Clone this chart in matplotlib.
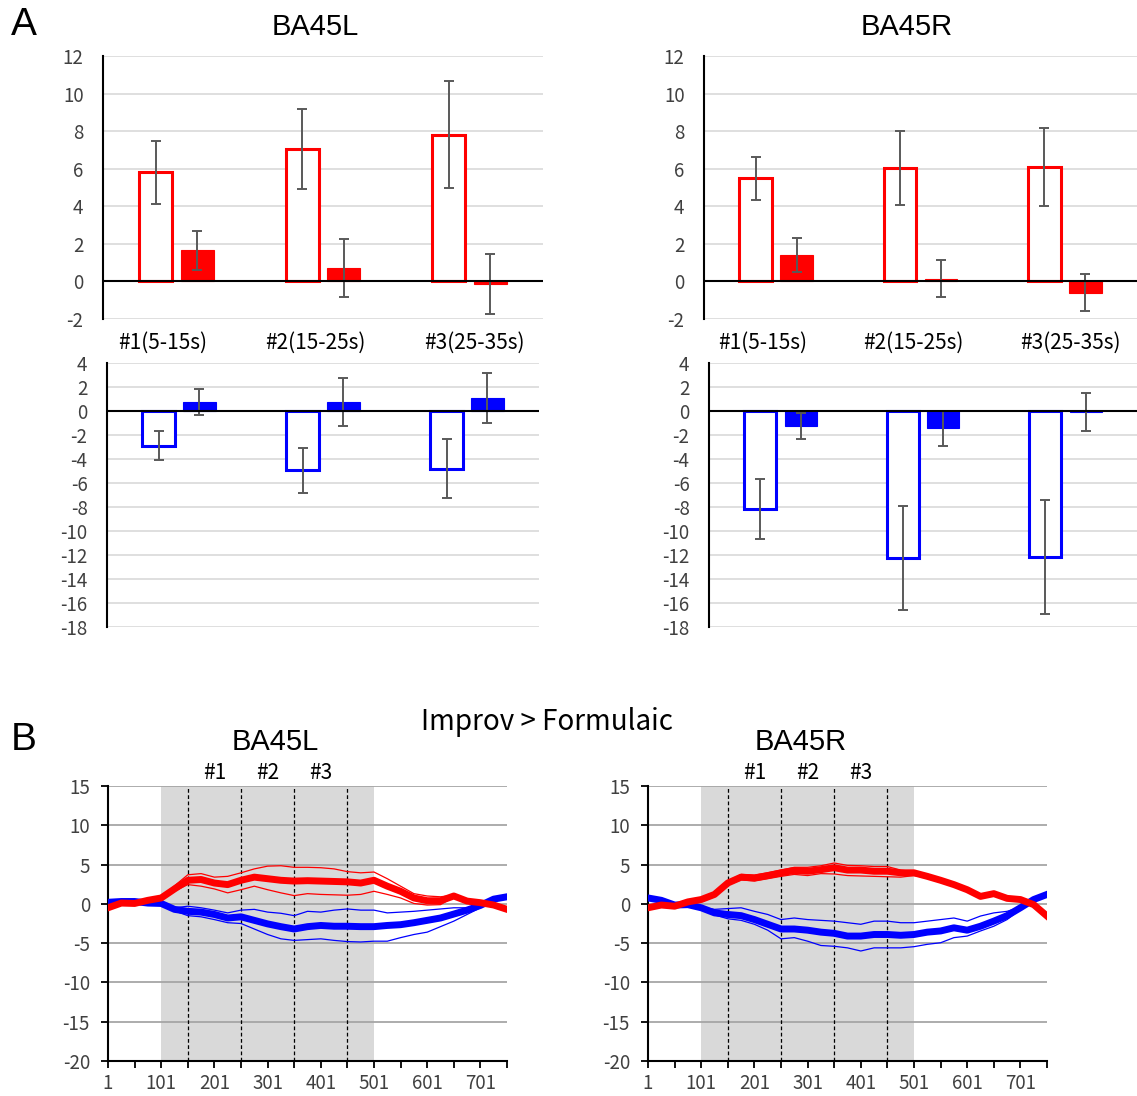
import numpy as np
import matplotlib
matplotlib.use('Agg')
import matplotlib.pyplot as plt

W, H = 1137, 1096

plt.rcParams['font.family'] = ['Noto Sans CJK JP', 'DejaVu Sans']
plt.rcParams['axes.unicode_minus'] = False

# ---------------- Panel A data (mean, error) ----------------
categories = ['#1(5-15s)', '#2(15-25s)', '#3(25-35s)']

L_red_open = [5.8, 7.05, 7.8]
L_red_open_err = [1.7, 2.15, 2.85]
L_red_fill = [1.65, 0.7, -0.15]
L_red_fill_err = [1.05, 1.55, 1.6]

R_red_open = [5.5, 6.05, 6.1]
R_red_open_err = [1.15, 1.97, 2.07]
R_red_fill = [1.4, 0.15, -0.6]
R_red_fill_err = [0.9, 0.97, 1.0]

L_blue_open = [-2.9, -4.95, -4.8]
L_blue_open_err = [1.2, 1.9, 2.45]
L_blue_fill = [0.75, 0.75, 1.1]
L_blue_fill_err = [1.1, 2.0, 2.07]

R_blue_open = [-8.15, -12.25, -12.15]
R_blue_open_err = [2.48, 4.35, 4.75]
R_blue_fill = [-1.25, -1.45, -0.1]
R_blue_fill_err = [1.05, 1.45, 1.6]

# ---------------- Panel B data (time courses) ----------------
t = [1, 26, 51, 76, 101, 126, 151, 176, 201, 226, 251, 276, 301, 326, 351, 376,
     401, 426, 451, 476, 501, 526, 551, 576, 601, 626, 651, 676, 701, 726, 751]

L_red_mean = [-0.5, 0.1, 0.05, 0.45, 0.75, 1.9, 3.0, 3.1, 2.65, 2.45, 3.0, 3.4, 3.2, 3.0, 2.9, 2.95,
              2.9, 2.85, 2.8, 2.65, 3.0, 2.25, 1.6, 0.75, 0.4, 0.4, 1.0, 0.35, 0.15, -0.15, -0.7]
L_red_upper = [-0.4, 0.2, 0.15, 0.55, 0.85, 2.3, 3.7, 3.85, 3.4, 3.5, 3.95, 4.45, 4.8, 4.85, 4.65, 4.65,
               4.6, 4.45, 4.1, 3.95, 4.05, 3.2, 2.25, 1.3, 1.0, 0.9, 1.1, 0.45, 0.25, -0.05, -0.6]
L_red_lower = [-0.6, 0.0, -0.05, 0.35, 0.65, 1.6, 2.45, 2.25, 1.9, 1.4, 1.8, 2.25, 1.8, 1.4, 1.05, 1.3,
               1.2, 1.15, 1.1, 1.2, 1.6, 1.2, 0.75, 0.05, -0.15, -0.1, 0.85, 0.25, 0.05, -0.25, -0.8]
L_blue_mean = [0.2, 0.3, 0.3, 0.1, 0.05, -0.7, -0.95, -1.05, -1.35, -1.8, -1.65, -2.1, -2.55, -2.9, -3.2, -2.9,
               -2.75, -2.85, -2.85, -2.9, -2.9, -2.75, -2.65, -2.4, -2.1, -1.8, -1.3, -0.8, -0.2, 0.6, 0.9]
L_blue_upper = [0.3, 0.4, 0.4, 0.2, 0.15, -0.5, -0.3, -0.5, -0.8, -1.15, -0.8, -0.7, -1.05, -1.2, -1.5, -0.95,
                -1.05, -0.8, -0.65, -0.8, -0.8, -1.15, -1.05, -0.95, -0.8, -0.65, -0.5, -0.5, -0.1, 0.7, 1.0]
L_blue_lower = [0.1, 0.2, 0.2, 0.0, -0.05, -0.9, -1.5, -1.65, -2.0, -2.4, -2.5, -3.2, -3.9, -4.45, -4.65, -4.55,
                -4.45, -4.65, -4.8, -4.85, -4.75, -4.75, -4.3, -3.9, -3.6, -2.9, -2.2, -1.35, -0.5, 0.45, 0.8]

R_red_mean = [-0.5, -0.15, -0.3, 0.25, 0.55, 1.2, 2.65, 3.4, 3.3, 3.6, 3.95, 4.25, 4.15, 4.35, 4.6, 4.3,
              4.3, 4.15, 4.15, 3.95, 3.95, 3.5, 3.0, 2.45, 1.8, 0.95, 1.3, 0.7, 0.55, -0.1, -1.55]
R_red_upper = [-0.4, -0.05, -0.2, 0.35, 0.65, 1.35, 2.9, 3.75, 3.65, 3.95, 4.3, 4.65, 4.65, 4.85, 5.2, 4.9,
               4.85, 4.75, 4.75, 4.3, 4.1, 3.65, 3.15, 2.6, 1.9, 1.05, 1.4, 0.8, 0.65, 0.0, -1.45]
R_red_lower = [-0.6, -0.25, -0.4, 0.15, 0.45, 1.05, 2.4, 3.05, 2.9, 3.2, 3.5, 3.75, 3.6, 3.85, 3.8, 3.6,
               3.55, 3.5, 3.45, 3.4, 3.6, 3.3, 2.85, 2.3, 1.7, 0.85, 1.2, 0.6, 0.45, -0.2, -1.65]
R_blue_mean = [0.75, 0.45, -0.15, -0.1, -0.5, -1.15, -1.35, -1.5, -2.0, -2.6, -3.2, -3.2, -3.35, -3.6, -3.75, -4.1,
               -4.1, -3.9, -3.9, -4.0, -3.9, -3.6, -3.45, -3.05, -3.35, -2.85, -2.2, -1.5, -0.5, 0.55, 1.2]
R_blue_upper = [0.85, 0.55, -0.05, 0.0, -0.4, -0.7, -0.6, -0.5, -0.95, -1.35, -2.0, -1.8, -2.0, -2.1, -2.2, -2.4,
                -2.6, -2.2, -2.2, -2.4, -2.4, -2.2, -2.0, -1.8, -2.2, -1.55, -1.15, -0.95, -0.4, 0.65, 1.3]
R_blue_lower = [0.65, 0.35, -0.25, -0.2, -0.6, -1.4, -1.9, -2.1, -2.6, -3.35, -4.45, -4.3, -4.75, -5.3, -5.4, -5.6,
                -6.0, -5.6, -5.6, -5.6, -5.45, -5.15, -4.95, -4.3, -4.1, -3.45, -2.85, -2.0, -0.7, 0.35, 1.0]

stim_window = (101, 501)
block_edges = [151, 251, 351, 451]
block_labels = ['#1', '#2', '#3']
block_centers = [201, 301, 401]

TICK_COLOR = '#404040'


def px_rect(l, t_, r, b):
    return [l / W, 1 - b / H, (r - l) / W, (b - t_) / H]


def fig_text(fig, x, y, s, **kw):
    fig.text(x / W, 1 - y / H, s, ha='center', va='center', **kw)


def bar_panel(ax, open_vals, open_err, fill_vals, fill_err, color, ylim, yticks):
    x = np.arange(len(open_vals))
    off, w = 0.142, 0.225
    ax.bar(x - off, open_vals, w, facecolor='white', edgecolor=color, linewidth=2.2, zorder=3)
    ax.bar(x + off, fill_vals, w, color=color, edgecolor=color, linewidth=0.8, zorder=3)
    for xs, v, e in [(x - off, open_vals, open_err), (x + off, fill_vals, fill_err)]:
        ax.errorbar(xs, v, yerr=e, fmt='none', ecolor='#595959', elinewidth=1.4,
                    capsize=3.5, capthick=1.4, zorder=4)
    ax.axhline(0, color='black', lw=1.5, zorder=5)
    ax.set_xlim(-0.5, 2.5)
    ax.set_ylim(ylim)
    ax.set_yticks(yticks)
    ax.set_xticks([])
    ax.grid(axis='y', color='#D9D9D9', lw=1.2)
    ax.set_axisbelow(True)
    for s in ['top', 'right', 'bottom']:
        ax.spines[s].set_visible(False)
    ax.spines['left'].set_linewidth(1.5)
    ax.tick_params(axis='y', length=0, pad=14, labelsize=13.5, labelcolor=TICK_COLOR)


def line_panel(ax, red, blue):
    ax.axvspan(*stim_window, color='#D9D9D9', lw=0, zorder=0)
    for xv in block_edges:
        ax.axvline(xv, color='black', lw=0.9, ls=(0, (3, 2)), zorder=2)
    for series, col, z in [(blue, 'blue', 3), (red, 'red', 5)]:
        mean, up, lo = series
        ax.plot(t, up, color=col, lw=0.9, zorder=z)
        ax.plot(t, lo, color=col, lw=0.9, zorder=z)
        ax.plot(t, mean, color=col, lw=5, zorder=z + 1, solid_joinstyle='round')
    ax.set_xlim(1, 751)
    ax.set_ylim(-20, 15)
    ax.set_yticks(range(-20, 16, 5))
    ax.set_xticks(range(1, 702, 100))
    ax.set_xticks(range(51, 752, 100), minor=True)
    ax.grid(axis='y', color='#A6A6A6', lw=1.3)
    ax.set_axisbelow(True)
    for s in ['top', 'right']:
        ax.spines[s].set_visible(False)
    for s in ['left', 'bottom']:
        ax.spines[s].set_linewidth(1.5)
    ax.tick_params(which='both', direction='out', length=5, width=1.3, color='black',
                   labelsize=13.5, labelcolor=TICK_COLOR)
    ax.tick_params(axis='y', pad=8)
    for xc, lab in zip(block_centers, block_labels):
        ax.text(xc, 1.047, lab, transform=ax.get_xaxis_transform(), ha='center', va='center',
                fontsize=15, color='black')


fig = plt.figure(figsize=(W / 100, H / 100), dpi=100)

ax_tl = fig.add_axes(px_rect(103, 56, 543, 319))
ax_tr = fig.add_axes(px_rect(704, 56, 1137, 319))
ax_bl = fig.add_axes(px_rect(107, 363, 539, 627))
ax_br = fig.add_axes(px_rect(709, 363, 1137, 627))

bar_panel(ax_tl, L_red_open, L_red_open_err, L_red_fill, L_red_fill_err, 'red', (-2, 12), range(-2, 13, 2))
bar_panel(ax_tr, R_red_open, R_red_open_err, R_red_fill, R_red_fill_err, 'red', (-2, 12), range(-2, 13, 2))
bar_panel(ax_bl, L_blue_open, L_blue_open_err, L_blue_fill, L_blue_fill_err, 'blue', (-18, 4), range(-18, 5, 2))
bar_panel(ax_br, R_blue_open, R_blue_open_err, R_blue_fill, R_blue_fill_err, 'blue', (-18, 4), range(-18, 5, 2))

# category labels sit between the red and blue rows
for ax in [ax_tl, ax_tr]:
    for xf, lab in zip([0.135, 0.483, 0.845], categories):
        ax.text(xf, -0.09, lab, transform=ax.transAxes, ha='center', va='center', fontsize=15)

ax_bl2 = fig.add_axes(px_rect(108, 786, 507, 1061))
ax_br2 = fig.add_axes(px_rect(648, 786, 1047, 1061))
line_panel(ax_bl2, (L_red_mean, L_red_upper, L_red_lower), (L_blue_mean, L_blue_upper, L_blue_lower))
line_panel(ax_br2, (R_red_mean, R_red_upper, R_red_lower), (R_blue_mean, R_blue_upper, R_blue_lower))

arial = ['Liberation Sans', 'DejaVu Sans']
fig_text(fig, 24, 25, 'A', fontsize=28, family=arial)
fig_text(fig, 24, 740, 'B', fontsize=28, family=arial)
fig_text(fig, 315, 27, 'BA45L', fontsize=21, family=arial)
fig_text(fig, 907, 27, 'BA45R', fontsize=21, family=arial)
fig_text(fig, 547, 722, 'Improv > Formulaic', fontsize=20)
fig_text(fig, 275, 742, 'BA45L', fontsize=21, family=arial)
fig_text(fig, 801, 742, 'BA45R', fontsize=21, family=arial)

fig.savefig('out.png', dpi=100)
